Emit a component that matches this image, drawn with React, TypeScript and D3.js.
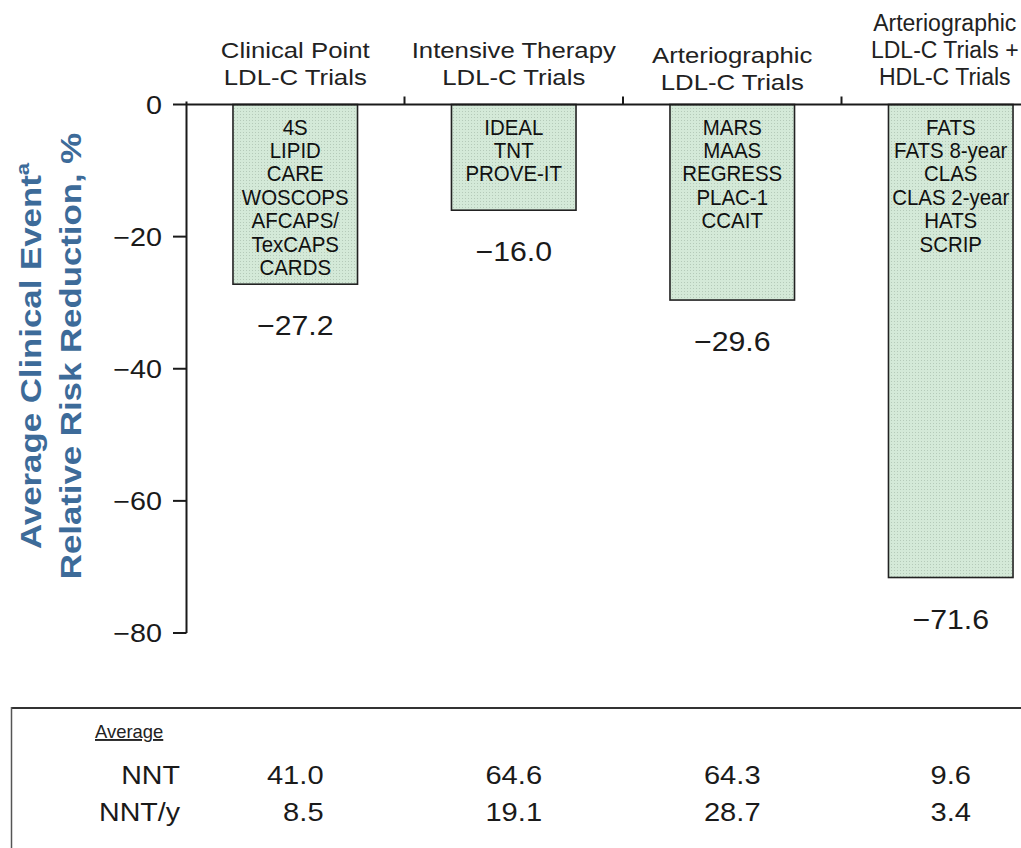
import React from "react";
import * as d3 from "d3";

// ---------- data ----------
const categories: string[][] = [
  ["Clinical Point", "LDL-C Trials"],
  ["Intensive Therapy", "LDL-C Trials"],
  ["Arteriographic", "LDL-C Trials"],
  ["Arteriographic", "LDL-C Trials +", "HDL-C Trials"],
];
const categoryKeys = ["clinical", "intensive", "arterio", "arterioHdl"];
const rrrValues = [-27.2, -16.0, -29.6, -71.6];
const trialNames: string[][] = [
  ["4S", "LIPID", "CARE", "WOSCOPS", "AFCAPS/", "TexCAPS", "CARDS"],
  ["IDEAL", "TNT", "PROVE-IT"],
  ["MARS", "MAAS", "REGRESS", "PLAC-1", "CCAIT"],
  ["FATS", "FATS 8-year", "CLAS", "CLAS 2-year", "HATS", "SCRIP"],
];
const yTicks = [0, -20, -40, -60, -80];
const tableRowLabels = ["NNT", "NNT/y"];
const nnt = [41.0, 64.6, 64.3, 9.6];
const nntPerYear = [8.5, 19.1, 28.7, 3.4];

// ---------- layout ----------
const W = 1021;
const H = 848;
const FONT = "'Liberation Sans', Arial, Helvetica, sans-serif";
const AXIS_X = 186.5;
const labelShift = [0, 0, 5, 0];
const labelDx = [0, 0, 0, -6];
const labelSx = [1.12, 1.12, 1.12, 1.0];

const y = d3.scaleLinear().domain([0, -80]).range([104.5, 633]);
const x = d3
  .scaleBand<string>()
  .domain(categoryKeys)
  .range([186, 1060])
  .paddingInner(0.43)
  .paddingOuter(0.215);

const fmt = (v: number) => (v < 0 ? "\u2212" + Math.abs(v).toFixed(1) : v.toFixed(1));

// approximate Arial digit widths (em) for right-aligning table columns
const strEm = (s: string) =>
  s.split("").reduce((a, c) => a + (c === "." ? 0.278 : 0.556), 0);

function T(props: {
  x: number;
  y: number;
  sx?: number;
  fs: number;
  anchor?: "start" | "middle" | "end";
  fill?: string;
  weight?: string | number;
  deco?: string;
  children: React.ReactNode;
}) {
  const { sx = 1, anchor = "start", fill = "#1a1a1a", weight = "normal" } = props;
  return (
    <text
      transform={`translate(${props.x},${props.y}) scale(${sx},1)`}
      textAnchor={anchor}
      fontSize={props.fs}
      fontFamily={FONT}
      fill={fill}
      fontWeight={weight}
      textDecoration={props.deco}
    >
      {props.children}
    </text>
  );
}

export default function App() {
  const step = x.step();
  const boundaries = categoryKeys.slice(1).map((k) => (x(k) as number) - (step - x.bandwidth()) / 2);

  const valFs = 26;
  const valSx = 1.12;

  return (
    <svg
      width={W}
      height={H}
      viewBox={`0 0 ${W} ${H}`}
      style={{ position: "absolute", left: 0, top: 0, background: "#fff" }}
    >
      <defs>
        <pattern id="dots" width="3" height="3" patternUnits="userSpaceOnUse">
          <rect width="3" height="3" fill="#d4e9d8" />
          <rect width="1" height="1" fill="#b5cab9" />
        </pattern>
      </defs>

      {/* Y-axis title */}
      <g fill="#3d6b99" fontFamily={FONT} fontWeight="bold" fontSize={30}>
        <text transform={`translate(41,356) rotate(-90) scale(1.16,1)`} textAnchor="middle">
          Average Clinical Event
          <tspan fontSize={19} dy={-12}>a</tspan>
        </text>
        <text transform={`translate(81,356) rotate(-90) scale(1.16,1)`} textAnchor="middle">
          Relative Risk Reduction, %
        </text>
      </g>

      {/* category labels */}
      {categories.map((lines, i) => {
        const cx = (x(categoryKeys[i]) as number) + x.bandwidth() / 2 + labelDx[i];
        const n = lines.length;
        return (
          <g key={"cl" + i}>
            {lines.map((ln, j) => (
              <T
                key={j}
                x={cx}
                y={85 + labelShift[i] - (n - 1 - j) * 27}
                fs={23}
                sx={labelSx[i]}
                anchor="middle"
                fill="#222"
              >
                {ln}
              </T>
            ))}
          </g>
        );
      })}

      {/* bars */}
      {rrrValues.map((v, i) => {
        const bx = x(categoryKeys[i]) as number;
        const bw = x.bandwidth();
        const cx = bx + bw / 2;
        return (
          <g key={"b" + i}>
            <rect
              x={bx}
              y={y(0)}
              width={bw}
              height={y(v) - y(0)}
              fill="url(#dots)"
              stroke="#222"
              strokeWidth={1.6}
            />
            {trialNames[i].map((t, j) => (
              <T key={j} x={cx} y={y(0) + 30 + j * 23.4} fs={22} sx={0.93} anchor="middle" fill="#111">
                {t}
              </T>
            ))}
            <T x={cx} y={y(v) + 51} fs={28} sx={1.08} anchor="middle" fill="#1a1a1a">
              {fmt(v)}
            </T>
          </g>
        );
      })}

      {/* axes */}
      <line x1={186} x2={W} y1={y(0)} y2={y(0)} stroke="#1a1a1a" strokeWidth={2} />
      <line x1={AXIS_X} x2={AXIS_X} y1={y(0) - 3} y2={y(-80)} stroke="#1a1a1a" strokeWidth={2} />
      {boundaries.map((b, i) => (
        <line key={"bt" + i} x1={b} x2={b} y1={y(0) - 8} y2={y(0)} stroke="#1a1a1a" strokeWidth={2} />
      ))}
      {yTicks.map((t) => (
        <g key={"yt" + t}>
          <line x1={173} x2={AXIS_X} y1={y(t)} y2={y(t)} stroke="#1a1a1a" strokeWidth={2} />
          <T x={162} y={y(t) + 9} fs={25} sx={1.15} anchor="end" fill="#1a1a1a">
            {fmt(t).replace(".0", "")}
          </T>
        </g>
      ))}

      {/* table */}
      <line x1={11} x2={W} y1={708} y2={708} stroke="#333" strokeWidth={2} />
      <line x1={11.5} x2={11.5} y1={707} y2={H} stroke="#555" strokeWidth={1.5} />
      <T x={95} y={738} fs={19} sx={0.97} fill="#222" deco="underline">
        Average
      </T>
      {tableRowLabels.map((lab, r) => (
        <T key={lab} x={180} y={784 + r * 37} fs={valFs} sx={1.1} anchor="end">
          {lab}
        </T>
      ))}
      {[nnt, nntPerYear].map((row, r) =>
        row.map((v, i) => {
          const cx = (x(categoryKeys[i]) as number) + x.bandwidth() / 2;
          const maxEm = Math.max(strEm(nnt[i].toFixed(1)), strEm(nntPerYear[i].toFixed(1)));
          const right = cx + (maxEm * valFs * valSx) / 2;
          return (
            <T key={r + "-" + i} x={right} y={784 + r * 37} fs={valFs} sx={valSx} anchor="end">
              {v.toFixed(1)}
            </T>
          );
        })
      )}
    </svg>
  );
}
